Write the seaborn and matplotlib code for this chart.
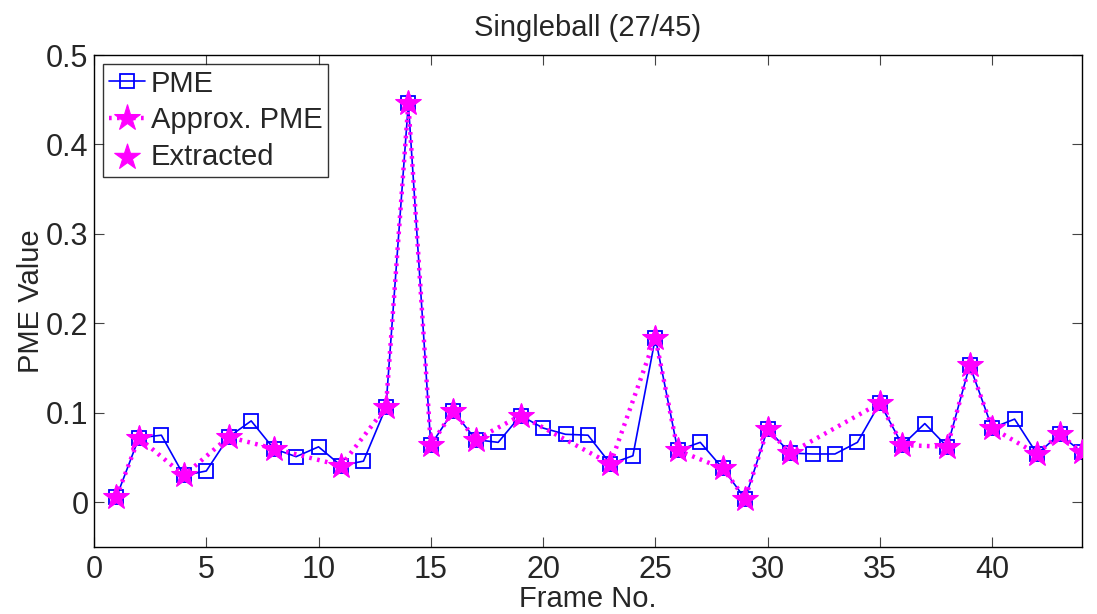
import numpy as np
import pandas as pd
import matplotlib
matplotlib.use("Agg")
import matplotlib.pyplot as plt
import seaborn as sns

# PME value of every frame
frames = list(range(1, 45))
pme = [0.006, 0.072, 0.075, 0.030, 0.035, 0.073, 0.091, 0.060, 0.051, 0.062,
       0.041, 0.046, 0.106, 0.446, 0.064, 0.102, 0.070, 0.067, 0.097, 0.083,
       0.076, 0.075, 0.043, 0.052, 0.184, 0.058, 0.067, 0.038, 0.004, 0.082,
       0.055, 0.054, 0.054, 0.067, 0.111, 0.064, 0.088, 0.062, 0.153, 0.083,
       0.093, 0.054, 0.076, 0.056]

# frames kept as key frames (27 of 45)
extracted = [1, 2, 4, 6, 8, 11, 13, 14, 15, 16, 17, 19, 23, 25, 26, 28, 29,
             30, 31, 35, 36, 38, 39, 40, 42, 43, 44]

xticks = [0, 5, 10, 15, 20, 25, 30, 35, 40]
yticks = [0, 0.1, 0.2, 0.3, 0.4, 0.5]
ytick_labels = ["0", "0.1", "0.2", "0.3", "0.4", "0.5"]

df = pd.DataFrame({"frame": frames, "pme": pme})
key = df[df["frame"].isin(extracted)].reset_index(drop=True)

sns.set_style("ticks")
plt.rcParams["font.family"] = ["Liberation Sans", "DejaVu Sans"]
plt.rcParams["font.size"] = 21

fig = plt.figure(figsize=(10.97, 6.14), dpi=100)
ax = fig.add_axes([0.0857, 0.1091, 0.9006, 0.8013])

blue = "#0000FF"
magenta = "#FF00FF"

sns.lineplot(data=df, x="frame", y="pme", ax=ax, color=blue, linewidth=1.2,
             marker="s", markersize=10, markerfacecolor="none",
             markeredgecolor=blue, markeredgewidth=1.3, label="PME",
             errorbar=None)
sns.lineplot(data=key, x="frame", y="pme", ax=ax, color=magenta,
             linewidth=3.2, linestyle=(0, (0.6, 1.2)), marker="*",
             markersize=19, markerfacecolor=magenta, markeredgecolor=magenta,
             label="Approx. PME", errorbar=None)
sns.scatterplot(data=key, x="frame", y="pme", ax=ax, color=magenta,
                marker="*", s=340, edgecolor=magenta, linewidth=0.8,
                label="Extracted", zorder=5)

ax.set_xlim(0, 44)
ax.set_ylim(-0.05, 0.5)
ax.set_xticks(xticks)
ax.set_yticks(yticks)
ax.set_yticklabels(ytick_labels)
ax.tick_params(direction="in", top=True, right=True, length=7, width=0.8,
               labelsize=22, color="#444444", pad=6)
ax.tick_params(axis="y", pad=4)
for s in ax.spines.values():
    s.set_visible(True)
    s.set_linewidth(1.0)
    s.set_color("black")

ax.set_title("Singleball (27/45)", fontsize=21, pad=14)
ax.set_xlabel("Frame No.", fontsize=21, labelpad=0)
ax.set_ylabel("PME Value", fontsize=21, labelpad=1)

leg = ax.legend(loc="upper left", fontsize=21, frameon=True, fancybox=False,
                edgecolor="black", handlelength=1.25, handletextpad=0.2,
                borderpad=0.2, labelspacing=0.3, borderaxespad=0.3,
                markerscale=1.05)
leg.get_frame().set_linewidth(1.0)

fig.savefig("out.png", dpi=100)
